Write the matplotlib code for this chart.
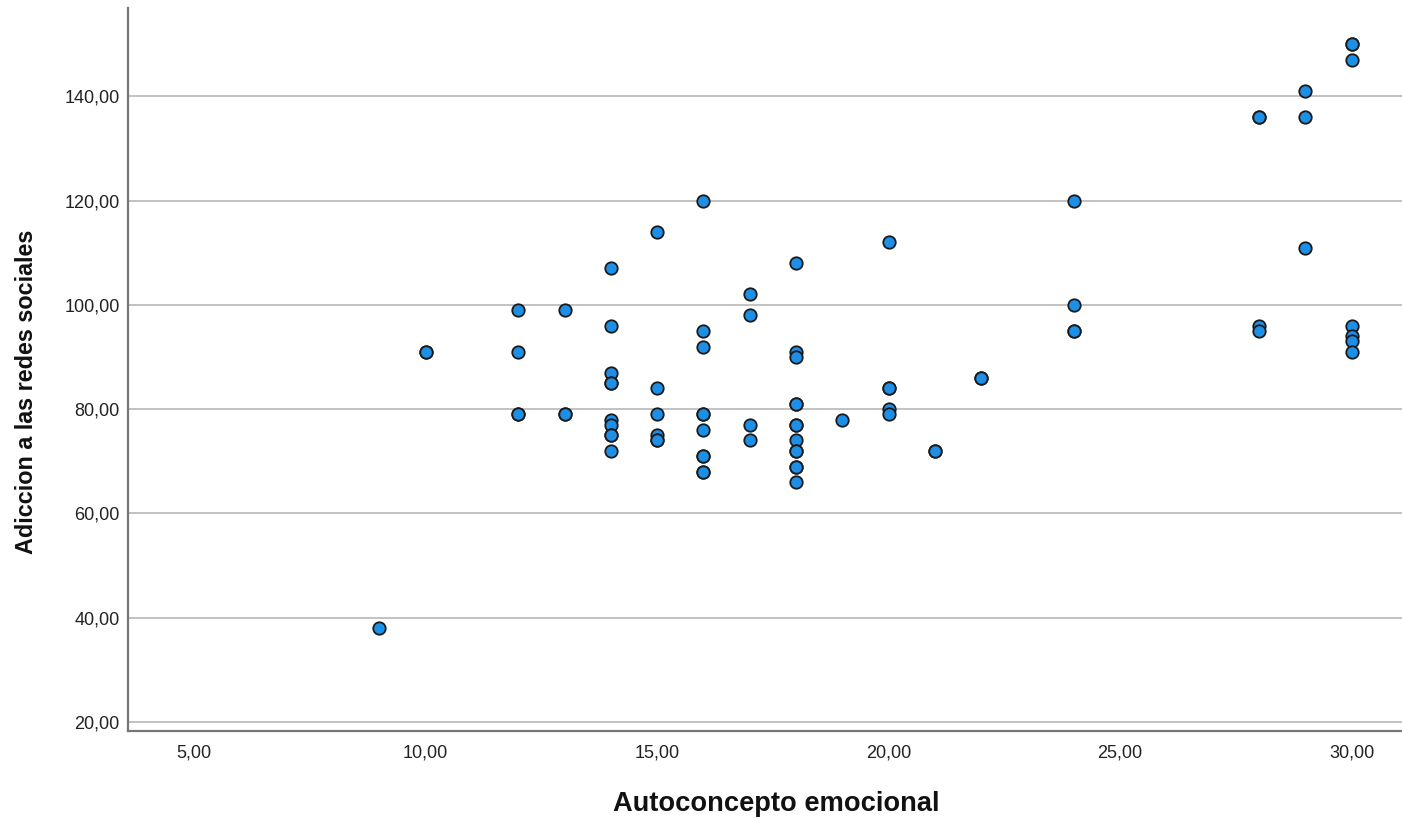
import matplotlib
matplotlib.use("Agg")
import matplotlib.pyplot as plt
from matplotlib.ticker import FuncFormatter

# Autoconcepto emocional (x) vs Adiccion a las redes sociales (y)
autoconcepto = [
    9,
    10, 10,
    12, 12, 12, 12,
    13, 13, 13,
    14, 14, 14, 14, 14, 14, 14, 14, 14, 14,
    15, 15, 15, 15, 15, 15,
    16, 16, 16, 16, 16, 16, 16, 16, 16, 16,
    17, 17, 17, 17,
    18, 18, 18, 18, 18, 18, 18, 18, 18, 18, 18, 18, 18,
    19,
    20, 20, 20, 20, 20,
    21, 21,
    22, 22,
    24, 24, 24, 24,
    28, 28, 28, 28,
    29, 29, 29,
    30, 30, 30, 30, 30, 30, 30,
]
adiccion = [
    38,
    91, 91,
    99, 91, 79, 79,
    99, 79, 79,
    107, 96, 87, 85, 85, 78, 77, 75, 75, 72,
    114, 84, 79, 75, 74, 74,
    120, 95, 92, 79, 79, 76, 71, 71, 68, 68,
    102, 98, 77, 74,
    108, 91, 90, 81, 81, 77, 77, 74, 72, 72, 69, 69, 66,
    78,
    112, 84, 84, 80, 79,
    72, 72,
    86, 86,
    120, 100, 95, 95,
    136, 136, 96, 95,
    141, 136, 111,
    150, 150, 147, 96, 94, 93, 91,
]

y_ticks = [20, 40, 60, 80, 100, 120, 140]
x_ticks = [5, 10, 15, 20, 25, 30]

plt.rcParams["font.family"] = ["Liberation Sans", "DejaVu Sans"]

fig = plt.figure(figsize=(14.02, 8.19), dpi=100)
ax = fig.add_axes([0.0913, 0.1074, 0.9087, 0.8826])

ax.scatter(autoconcepto, adiccion, s=80, c="#1e8fe6",
           edgecolors="#1a1a1a", linewidths=1.3, zorder=3)

ax.set_xlim(3.57, 31.09)
ax.set_ylim(18.27, 156.9)
ax.set_xticks(x_ticks)
ax.set_yticks(y_ticks)

comma = FuncFormatter(lambda v, _: f"{v:.2f}".replace(".", ","))
ax.xaxis.set_major_formatter(comma)
ax.yaxis.set_major_formatter(comma)

ax.tick_params(axis="both", length=0, labelsize=13, colors="#222222")
ax.tick_params(axis="x", pad=10)
ax.tick_params(axis="y", pad=6)

ax.grid(axis="y", color="#bdbdbd", linewidth=1.3, zorder=0)
ax.set_axisbelow(True)

for side in ("top", "right"):
    ax.spines[side].set_visible(False)
for side in ("left", "bottom"):
    ax.spines[side].set_color("#777777")
    ax.spines[side].set_linewidth(1.6)

ax.set_xlabel("Autoconcepto emocional", fontsize=19.6, fontweight="bold",
              color="#111111")
ax.set_ylabel("Adiccion a las redes sociales", fontsize=16.8, fontweight="bold",
              color="#111111")
ax.xaxis.set_label_coords(0.5086, -0.083)
ax.yaxis.set_label_coords(-0.0706, 0.469)

fig.savefig("out.png", dpi=100)
